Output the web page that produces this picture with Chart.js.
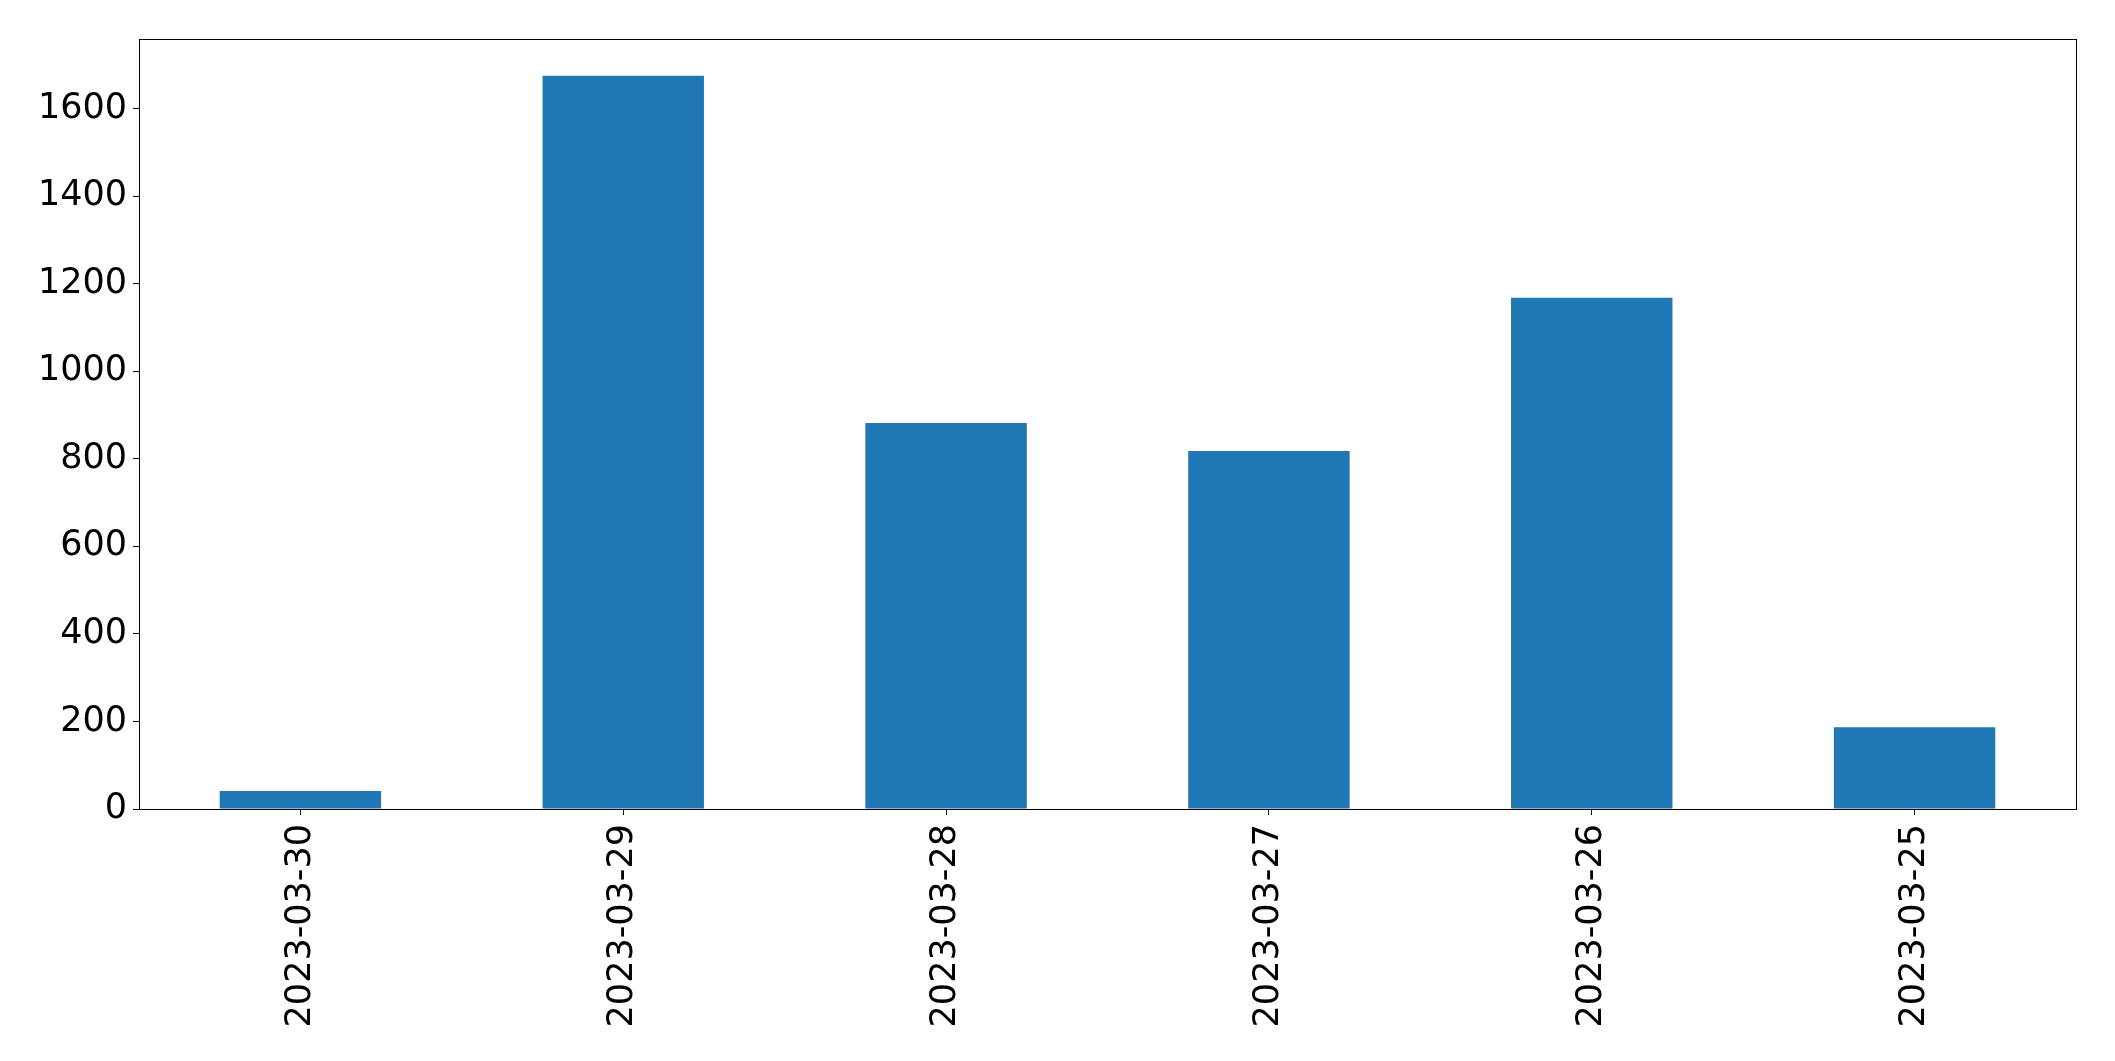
<!DOCTYPE html>
<html>
<head>
<meta charset="utf-8">
<script src="https://cdn.jsdelivr.net/npm/chart.js@4/dist/chart.umd.min.js"></script>
<style>
  html, body { margin: 0; padding: 0; background: #fff; }
  #wrap { width: 2115px; height: 1061px; }
</style>
</head>
<body>
<div id="wrap"><canvas id="myChart" width="2115" height="1061"></canvas></div>
<script>
// values
var dates = ['2023-03-30', '2023-03-29', '2023-03-28', '2023-03-27', '2023-03-26', '2023-03-25'];
var counts = [41, 1675, 882, 818, 1168, 187];
var yMax = 1759;   // matplotlib auto limit (5% margin above tallest bar)
var yStep = 200;

// black frame round the plot area, like the matplotlib axes box
var frame = {
    id: 'frame',
    afterDraw: function(chart) {
        var a = chart.chartArea, c = chart.ctx;
        c.save();
        c.strokeStyle = '#000';
        c.lineWidth = 1;
        c.strokeRect(Math.round(a.left) + 0.5, Math.round(a.top) + 0.5,
            Math.round(a.right - a.left), Math.round(a.bottom - a.top));
        c.restore();
    }
};

Chart.defaults.font.family = '"DejaVu Sans", sans-serif';
Chart.defaults.color = '#000';

var ctx = document.getElementById('myChart');
var myChart = new Chart(ctx, {
    type: 'bar',
    data: {
        labels: dates,
        datasets: [{
            data: counts,
            backgroundColor: '#1f77b4',
            borderWidth: 0,
            barPercentage: 0.5,
            categoryPercentage: 1.0
        }]
    },
    options: {
        responsive: false,
        animation: false,
        layout: { padding: { top: 39, right: 39, left: 0, bottom: 0 } },
        plugins: {
            legend: { display: false },
            tooltip: { enabled: false }
        },
        scales: {
            x: {
                offset: true,
                grid: { display: true, drawOnChartArea: false, tickLength: 6, tickColor: '#000', offset: false },
                border: { display: false },
                ticks: {
                    minRotation: 90,
                    maxRotation: 90,
                    padding: 9,
                    font: { size: 35 },
                    color: '#000'
                },
                afterFit: function(s) { s.height = 252; }
            },
            y: {
                min: 0,
                max: yMax,
                grid: { display: true, drawOnChartArea: false, tickLength: 6, tickColor: '#000' },
                border: { display: false },
                ticks: {
                    stepSize: yStep,
                    includeBounds: false,
                    padding: 6,
                    font: { size: 35 },
                    color: '#000',
                    callback: function(v) { return String(v); }
                },
                afterFit: function(s) { s.width = 139; }
            }
        }
    },
    plugins: [frame]
});
</script>
</body>
</html>
